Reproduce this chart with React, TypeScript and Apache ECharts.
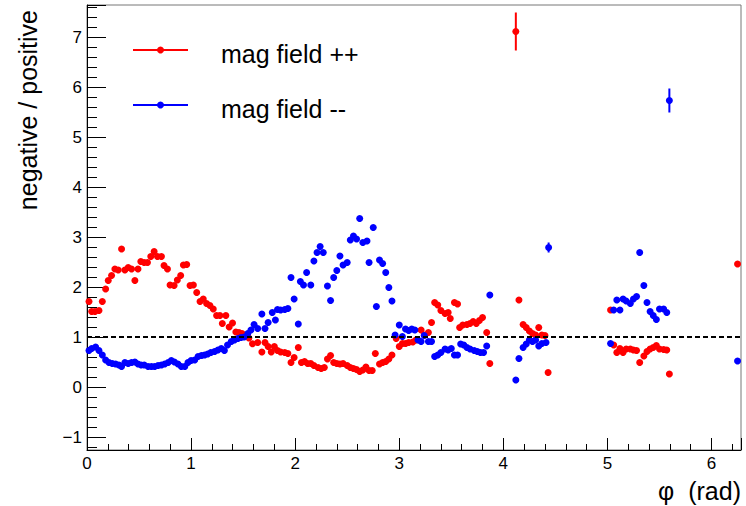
import React, { useEffect, useRef } from "react";
import * as echarts from "echarts";

// [phi (rad), negative/positive]
const redPoints: [number, number][] = [
  [0.019, 1.71], [0.045, 1.51], [0.077, 1.51], [0.115, 1.53], [0.147, 1.71], [0.179, 1.96],
  [0.204, 2.13], [0.236, 2.23], [0.268, 2.36], [0.3, 2.34], [0.332, 2.76], [0.364, 2.34],
  [0.396, 2.39], [0.428, 2.36], [0.46, 2.13], [0.49, 2.36], [0.517, 2.51], [0.549, 2.49],
  [0.581, 2.49], [0.613, 2.61], [0.645, 2.71], [0.677, 2.61], [0.715, 2.61], [0.74, 2.43],
  [0.773, 2.36], [0.798, 2.04], [0.837, 2.03], [0.868, 2.14], [0.9, 2.23], [0.926, 2.44],
  [0.958, 2.45], [0.99, 2.03], [1.022, 2.04], [1.054, 1.89], [1.086, 1.71], [1.117, 1.76],
  [1.149, 1.67], [1.181, 1.63], [1.213, 1.56], [1.245, 1.43], [1.277, 1.43], [1.3, 1.27],
  [1.334, 1.43], [1.366, 1.2], [1.398, 1.28], [1.43, 1.1], [1.46, 1.09], [1.49, 1.07],
  [1.52, 1.03], [1.555, 0.98], [1.59, 0.865], [1.64, 0.89], [1.68, 0.7], [1.71, 0.89],
  [1.74, 0.81], [1.77, 0.7], [1.8, 0.81], [1.83, 0.73], [1.86, 0.7], [1.9, 0.69],
  [1.93, 0.67], [1.96, 0.49], [1.99, 0.59], [2.03, 0.79], [2.06, 0.49], [2.09, 0.51],
  [2.12, 0.47], [2.15, 0.47], [2.18, 0.43], [2.22, 0.39], [2.25, 0.37], [2.28, 0.39],
  [2.31, 0.56], [2.34, 0.63], [2.37, 0.49], [2.4, 0.47], [2.43, 0.46], [2.46, 0.47],
  [2.5, 0.43], [2.53, 0.39], [2.56, 0.37], [2.59, 0.35], [2.62, 0.31], [2.65, 0.34],
  [2.68, 0.4], [2.71, 0.33], [2.74, 0.33], [2.77, 0.67], [2.81, 0.46], [2.84, 0.49],
  [2.87, 0.51], [2.9, 0.56], [2.93, 0.64], [2.97, 0.97], [3.0, 0.81], [3.03, 0.87],
  [3.06, 0.87], [3.09, 0.89], [3.13, 0.9], [3.16, 0.94], [3.21, 1.14], [3.24, 1.04],
  [3.28, 1.09], [3.31, 1.29], [3.34, 1.69], [3.37, 1.64], [3.4, 1.53], [3.44, 1.47],
  [3.47, 1.49], [3.49, 1.37], [3.53, 1.69], [3.56, 1.66], [3.58, 1.19], [3.61, 1.24],
  [3.65, 1.25], [3.68, 1.27], [3.71, 1.31], [3.74, 1.27], [3.77, 1.33], [3.8, 1.39],
  [3.84, 1.09], [3.87, 0.47], [4.12, 7.11], [4.15, 1.74], [4.19, 1.25], [4.22, 1.19],
  [4.25, 1.12], [4.28, 1.07], [4.31, 1.04], [4.34, 1.19], [4.37, 1.04], [4.4, 1.03],
  [4.43, 0.29], [5.03, 1.54], [5.06, 0.84], [5.09, 0.69], [5.12, 0.77], [5.15, 0.69],
  [5.18, 0.76], [5.22, 0.76], [5.25, 0.74], [5.28, 0.73], [5.31, 0.49], [5.35, 0.62],
  [5.38, 0.71], [5.41, 0.76], [5.44, 0.79], [5.47, 0.83], [5.5, 0.76], [5.54, 0.75],
  [5.57, 0.74], [5.595, 0.26], [6.25, 2.46],
];

const bluePoints: [number, number][] = [
  [0.019, 0.73], [0.045, 0.77], [0.083, 0.8], [0.115, 0.73], [0.147, 0.64], [0.179, 0.54],
  [0.211, 0.49], [0.243, 0.47], [0.275, 0.46], [0.307, 0.44], [0.332, 0.41], [0.364, 0.49],
  [0.396, 0.47], [0.428, 0.49], [0.46, 0.5], [0.49, 0.46], [0.52, 0.44], [0.55, 0.44],
  [0.587, 0.41], [0.619, 0.41], [0.65, 0.41], [0.683, 0.43], [0.715, 0.44], [0.747, 0.46],
  [0.78, 0.49], [0.81, 0.53], [0.84, 0.5], [0.874, 0.46], [0.906, 0.41], [0.94, 0.41],
  [0.97, 0.49], [1.0, 0.53], [1.035, 0.54], [1.067, 0.61], [1.1, 0.63], [1.13, 0.64],
  [1.16, 0.66], [1.19, 0.69], [1.226, 0.71], [1.258, 0.74], [1.29, 0.77], [1.32, 0.73],
  [1.35, 0.84], [1.386, 0.91], [1.417, 0.94], [1.45, 0.97], [1.48, 0.99], [1.51, 1.0],
  [1.545, 1.07], [1.575, 1.14], [1.605, 1.25], [1.64, 1.17], [1.68, 1.46], [1.71, 1.17],
  [1.74, 1.29], [1.78, 1.49], [1.81, 1.34], [1.83, 1.55], [1.86, 1.54], [1.9, 1.55],
  [1.93, 1.57], [1.96, 2.19], [1.99, 1.76], [2.03, 1.26], [2.05, 2.11], [2.08, 2.04],
  [2.11, 2.29], [2.15, 2.04], [2.18, 2.52], [2.21, 2.69], [2.24, 2.81], [2.27, 2.69],
  [2.31, 2.02], [2.34, 1.73], [2.37, 2.19], [2.4, 2.33], [2.43, 2.62], [2.46, 2.44],
  [2.5, 2.49], [2.53, 2.94], [2.56, 3.02], [2.59, 2.96], [2.62, 3.37], [2.65, 2.89],
  [2.69, 2.92], [2.71, 2.49], [2.75, 3.19], [2.78, 1.61], [2.81, 2.54], [2.84, 2.47],
  [2.87, 2.29], [2.9, 1.99], [2.93, 1.72], [2.96, 1.04], [3.0, 1.24], [3.03, 1.01],
  [3.06, 1.16], [3.09, 1.13], [3.12, 1.16], [3.15, 1.14], [3.18, 0.94], [3.21, 0.91],
  [3.24, 1.03], [3.28, 0.91], [3.31, 0.91], [3.34, 0.61], [3.37, 0.64], [3.4, 0.69],
  [3.44, 0.76], [3.47, 0.74], [3.5, 0.77], [3.53, 0.64], [3.56, 0.64], [3.59, 0.86],
  [3.62, 0.84], [3.65, 0.79], [3.68, 0.76], [3.72, 0.73], [3.75, 0.71], [3.78, 0.69],
  [3.81, 0.69], [3.84, 0.82], [3.87, 1.84], [4.12, 0.14], [4.15, 0.57], [4.19, 0.79],
  [4.22, 0.86], [4.25, 0.94], [4.28, 0.91], [4.31, 0.94], [4.34, 0.82], [4.37, 0.87],
  [4.41, 0.89], [4.435, 2.79], [5.03, 0.87], [5.06, 1.54], [5.09, 1.74], [5.12, 1.54],
  [5.15, 1.76], [5.18, 1.72], [5.22, 1.67], [5.25, 1.76], [5.28, 1.81], [5.31, 2.69],
  [5.35, 2.03], [5.38, 1.69], [5.41, 1.51], [5.44, 1.43], [5.47, 1.35], [5.5, 1.56],
  [5.54, 1.56], [5.57, 1.49], [5.595, 5.73], [6.25, 0.52],
];

// [phi, value, error] for points whose error bars are visible
const redErrors: [number, number, number][] = [[4.12, 7.11, 0.38]];
const blueErrors: [number, number, number][] = [[4.435, 2.79, 0.1], [5.595, 5.73, 0.24]];

const referenceLevel = 1;
const seriesNames = ["mag field ++", "mag field --"];
const seriesColors = ["#ff0000", "#0000ff"];
const xTitle = "φ  (rad)";
const yTitle = "negative / positive";

const FONT = '"Liberation Sans", Arial, Helvetica, sans-serif';

function errorSeries(data: [number, number, number][], color: string) {
  return {
    type: "custom",
    silent: true,
    data,
    encode: { x: 0, y: 1 },
    z: 2,
    renderItem: (_params: any, api: any) => {
      const x = api.value(0);
      const y = api.value(1);
      const e = api.value(2);
      const p1 = api.coord([x, y + e]);
      const p2 = api.coord([x, y - e]);
      return {
        type: "line",
        shape: { x1: p1[0], y1: p1[1], x2: p2[0], y2: p2[1] },
        style: { stroke: color, lineWidth: 2 },
      };
    },
  };
}

export default function App() {
  const ref = useRef<HTMLDivElement>(null);

  useEffect(() => {
    if (!ref.current) return;
    const chart = echarts.init(ref.current, null, { renderer: "svg" });
    const tickLine = { color: "#000", width: 1 };
    const legendItem = (i: number, y: number) => [
      { type: "line", shape: { x1: 133, y1: y, x2: 188, y2: y }, style: { stroke: seriesColors[i], lineWidth: 2 } },
      { type: "circle", shape: { cx: 160.5, cy: y, r: 3.5 }, style: { fill: seriesColors[i] } },
      {
        type: "text",
        x: 221,
        y: y + 4,
        style: {
          text: seriesNames[i],
          fill: "#000",
          font: `25px ${FONT}`,
          align: "left",
          textAlign: "left",
          verticalAlign: "middle",
          textVerticalAlign: "middle",
        },
      },
    ];
    chart.setOption({
      animation: false,
      backgroundColor: "#ffffff",
      textStyle: { fontFamily: FONT },
      grid: {
        left: 87,
        right: 5,
        top: 5,
        bottom: 56,
        show: true,
        borderColor: "#777",
        borderWidth: 1,
        backgroundColor: "transparent",
        containLabel: false,
        outerBoundsMode: "none",
      },
      xAxis: {
        type: "value",
        min: 0,
        max: 6.2832,
        interval: 1,
        axisLine: { show: true, onZero: false, lineStyle: tickLine },
        axisTick: { show: true, inside: true, length: 12, lineStyle: tickLine },
        minorTick: { show: true, splitNumber: 5, length: 6, lineStyle: tickLine },
        splitLine: { show: false },
        minorSplitLine: { show: false },
        axisLabel: {
          color: "#000",
          fontSize: 17,
          fontFamily: FONT,
          margin: 5,
          showMinLabel: true,
          showMaxLabel: false,
          hideOverlap: false,
        },
      },
      yAxis: {
        type: "value",
        min: -1.26,
        max: 7.64,
        splitNumber: 9,
        axisLine: { show: true, onZero: false, lineStyle: tickLine },
        axisTick: { show: true, inside: true, length: 19, lineStyle: tickLine },
        minorTick: { show: true, splitNumber: 5, length: 10, lineStyle: tickLine },
        splitLine: { show: false },
        minorSplitLine: { show: false },
        axisLabel: {
          color: "#000",
          fontSize: 17,
          fontFamily: FONT,
          margin: 5,
          showMinLabel: false,
          showMaxLabel: false,
          hideOverlap: false,
          formatter: (v: number) => String(v).replace("-", "\u2212"),
        },
      },
      graphic: [
        ...legendItem(0, 50),
        ...legendItem(1, 105),
        {
          type: "text",
          x: 28,
          y: 10,
          rotation: Math.PI / 2,
          style: {
            text: yTitle,
            fill: "#000",
            font: `25px ${FONT}`,
            align: "right",
            textAlign: "right",
            verticalAlign: "middle",
            textVerticalAlign: "middle",
          },
        },
        {
          type: "text",
          x: 741,
          y: 491,
          style: {
            text: xTitle,
            fill: "#000",
            font: `25px ${FONT}`,
            align: "right",
            textAlign: "right",
            verticalAlign: "middle",
            textVerticalAlign: "middle",
          },
        },
      ],
      series: [
        errorSeries(redErrors, seriesColors[0]),
        errorSeries(blueErrors, seriesColors[1]),
        {
          type: "scatter",
          name: seriesNames[0],
          data: redPoints,
          symbol: "circle",
          symbolSize: 7,
          itemStyle: { color: seriesColors[0], opacity: 1 },
          silent: true,
          z: 3,
        },
        {
          type: "scatter",
          name: seriesNames[1],
          data: bluePoints,
          symbol: "circle",
          symbolSize: 7,
          itemStyle: { color: seriesColors[1], opacity: 1 },
          silent: true,
          z: 4,
          markLine: {
            silent: true,
            symbol: "none",
            label: { show: false },
            lineStyle: { color: "#000", type: [5, 3], width: 2, opacity: 1 },
            data: [{ yAxis: referenceLevel }],
          },
        },
      ],
    });
    return () => chart.dispose();
  }, []);

  return (
    <div
      ref={ref}
      style={{ position: "absolute", left: 0, top: 0, width: 746, height: 506 }}
    />
  );
}
